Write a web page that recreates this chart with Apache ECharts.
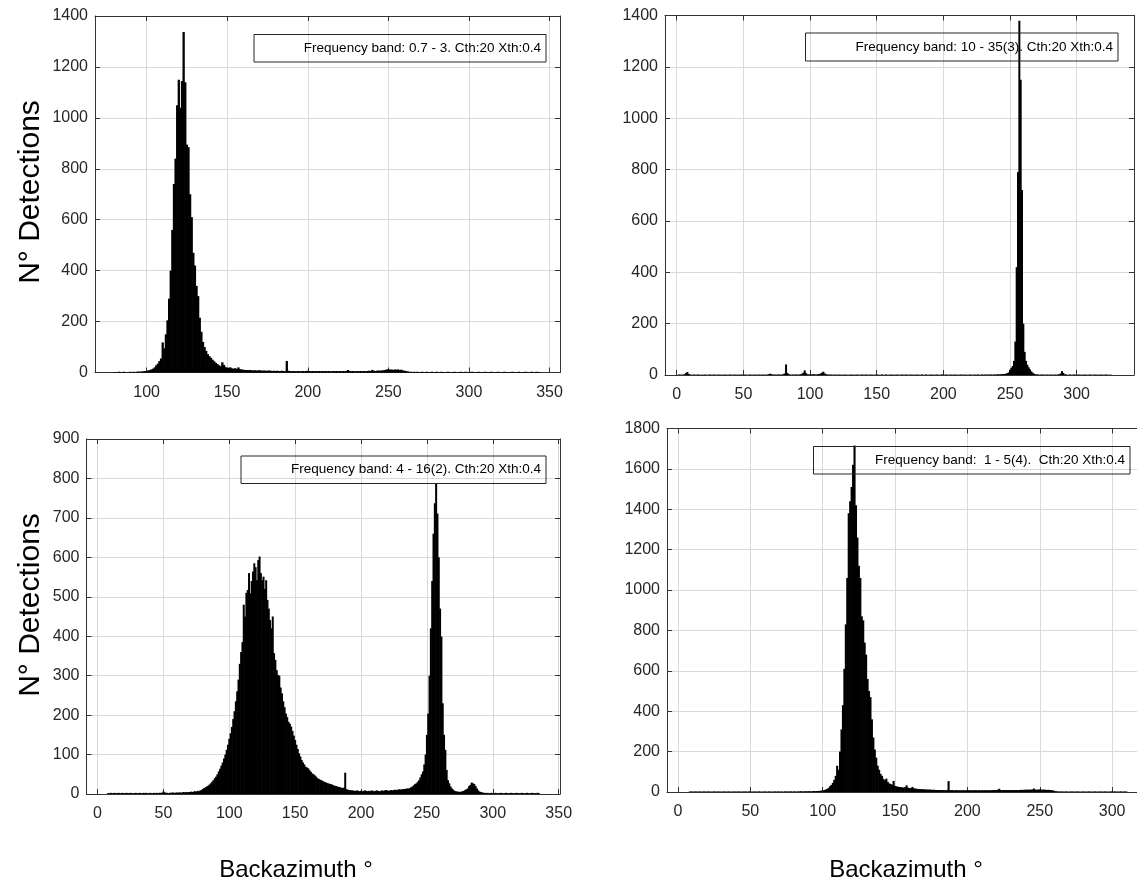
<!DOCTYPE html>
<html>
<head>
<meta charset="utf-8">
<title>Backazimuth histograms</title>
<script src="https://cdn.jsdelivr.net/npm/echarts@6.0.0/dist/echarts.min.js"></script>
<style>
  html, body { margin: 0; padding: 0; background: #fff; }
  #chart { width: 1137px; height: 885px; }
</style>
</head>
<body>
<div id="chart"></div>
<script>
// legend labels (one per panel)
const band1 = 'Frequency band: 0.7 - 3. Cth:20 Xth:0.4'
const band2 = 'Frequency band: 10 - 35(3). Cth:20 Xth:0.4'
const band3 = 'Frequency band: 4 - 16(2). Cth:20 Xth:0.4'
const band4 = 'Frequency band:  1 - 5(4).  Cth:20 Xth:0.4'

// x tick labels
const xTicks1 = [100, 150, 200, 250, 300, 350]
const xTicks2 = [0, 50, 100, 150, 200, 250, 300]
const xTicks3 = [0, 50, 100, 150, 200, 250, 300, 350]
const xTicks4 = [0, 50, 100, 150, 200, 250, 300]

// histogram counts, 1-degree bins, first bin at the start value
const start1 = 80
const counts1 = [
  2, 1, 2, 3, 2, 2, 3, 2, 1, 2,
  3, 2, 3, 2, 3, 4, 3, 4, 5, 6,
  6, 8, 10, 12, 15, 20, 28, 35, 45, 55,
  118, 95, 150, 205, 290, 400, 560, 740, 840, 1050,
  1150, 1040, 1145, 1337, 1140, 895, 885, 700, 610, 470,
  420, 340, 300, 215, 160, 120, 100, 85, 72, 64,
  58, 50, 44, 38, 33, 28, 25, 40, 30, 22,
  18, 19, 20, 16, 15, 17, 14, 20, 13, 12,
  11, 10, 10, 9, 10, 9, 8, 9, 8, 8,
  9, 8, 7, 8, 7, 7, 8, 7, 6, 7,
  6, 7, 6, 6, 7, 6, 5, 45, 7, 6,
  5, 6, 5, 5, 6, 5, 5, 6, 5, 6,
  7, 6, 5, 6, 5, 6, 5, 6, 5, 6,
  5, 6, 5, 6, 5, 5, 6, 5, 6, 5,
  6, 5, 6, 5, 6, 10, 6, 5, 6, 5,
  5, 6, 5, 6, 5, 6, 5, 6, 7, 6,
  10, 7, 6, 7, 8, 7, 8, 9, 10, 12,
  13, 11, 12, 10, 12, 11, 12, 10, 11, 8,
  7, 6, 4, 3, 3, 2, 3, 2, 3, 2,
  2, 3, 2, 2, 3, 2, 2, 3, 2, 2,
  3, 2, 2, 3, 2, 2, 2, 3, 2, 2,
  2, 3, 2, 2, 2, 3, 2, 2, 3, 2,
  2, 2, 3, 2, 2, 2, 3, 2, 2, 2,
  3, 2, 2, 2, 3, 2, 2, 2, 3, 2,
  2, 2, 3, 2, 2, 2, 2, 3, 2, 2,
  2, 3, 2, 2, 2, 3, 2, 2, 2, 3,
  2, 2, 3, 2, 2
]

const start2 = 0
const counts2 = [
  0, 1, 2, 1, 1, 2, 3, 8, 12, 4,
  2, 1, 1, 2, 1, 1, 2, 1, 1, 1,
  1, 2, 1, 1, 1, 2, 1, 1, 2, 1,
  1, 1, 2, 1, 1, 1, 2, 1, 1, 1,
  2, 1, 1, 1, 2, 1, 1, 1, 2, 1,
  1, 2, 1, 1, 1, 2, 1, 1, 1, 2,
  1, 1, 2, 1, 1, 2, 1, 1, 2, 3,
  5, 3, 2, 1, 2, 1, 2, 2, 1, 2,
  3, 6, 41, 8, 3, 2, 1, 2, 1, 2,
  2, 1, 2, 3, 5, 9, 18, 7, 3, 2,
  2, 3, 2, 3, 2, 2, 3, 4, 6, 9,
  13, 6, 3, 2, 2, 1, 2, 1, 1, 2,
  1, 1, 2, 1, 1, 1, 2, 1, 1, 1,
  1, 2, 1, 1, 1, 2, 1, 1, 1, 2,
  1, 1, 2, 1, 1, 1, 2, 1, 1, 1,
  2, 1, 1, 1, 2, 1, 1, 2, 1, 1,
  1, 2, 1, 1, 1, 2, 1, 1, 1, 2,
  1, 1, 2, 1, 1, 1, 2, 1, 1, 1,
  2, 1, 1, 1, 2, 1, 1, 2, 1, 1,
  1, 2, 1, 1, 1, 2, 1, 1, 1, 2,
  1, 1, 2, 1, 1, 1, 2, 1, 1, 2,
  1, 1, 1, 2, 1, 1, 2, 1, 1, 1,
  2, 1, 1, 1, 2, 1, 2, 1, 1, 2,
  1, 2, 1, 2, 1, 2, 2, 1, 2, 2,
  2, 3, 2, 3, 3, 4, 4, 5, 7, 10,
  20, 28, 35, 55, 130, 420, 790, 1380, 1150, 720,
  200, 90, 55, 40, 30, 22, 14, 9, 5, 3,
  2, 2, 1, 2, 1, 2, 1, 1, 2, 1,
  1, 2, 1, 1, 2, 1, 2, 3, 6, 15,
  8, 3, 2, 1, 1, 2, 1, 1, 2, 1,
  1, 1, 2, 1, 1, 1, 2, 1, 1, 1,
  2, 1, 1, 1, 2, 1, 1, 1, 2, 1,
  1, 1, 2, 1, 1, 1, 1
]

const start3 = 8
const counts3 = [
  2, 2, 3, 2, 2, 3, 2, 2, 3, 2, 2, 3,
  2, 2, 3, 2, 2, 3, 2, 2, 2, 3,
  2, 2, 3, 2, 2, 3, 2, 3, 2, 2,
  3, 2, 2, 3, 2, 3, 2, 3, 3, 3,
  6, 4, 3, 3, 2, 3, 3, 4, 3, 3,
  4, 3, 4, 4, 3, 5, 4, 5, 4, 5,
  5, 6, 5, 6, 7, 6, 8, 7, 9, 10,
  13, 15, 17, 19, 21, 24, 27, 31, 35, 40,
  44, 50, 57, 64, 72, 80, 90, 100, 112, 125,
  140, 154, 170, 190, 210, 235, 260, 290, 330, 360,
  385, 480, 450, 510, 517, 560, 509, 540, 564, 585,
  575, 542, 593, 602, 560, 542, 551, 520, 542, 492,
  470, 441, 420, 450, 357, 340, 314, 302, 300, 270,
  255, 235, 220, 204, 195, 183, 178, 171, 160, 148,
  137, 125, 114, 103, 95, 86, 80, 75, 69, 67,
  65, 60, 56, 52, 50, 47, 44, 40, 38, 36,
  35, 33, 31, 30, 28, 27, 26, 25, 24, 22,
  21, 20, 19, 18, 17, 16, 15, 16, 54, 12,
  11, 10, 10, 9, 9, 8, 8, 9, 8, 7,
  8, 7, 8, 9, 8, 7, 8, 7, 9, 8,
  7, 8, 9, 8, 7, 8, 9, 8, 9, 10,
  9, 8, 9, 10, 9, 10, 11, 10, 11, 12,
  11, 12, 12, 13, 13, 14, 14, 15, 17, 19,
  22, 25, 27, 31, 35, 42, 50, 57, 75, 100,
  150, 204, 300, 420, 540, 660, 737, 788, 711, 600,
  470, 399, 230, 150, 112, 61, 35, 27, 19, 14,
  11, 8, 7, 6, 6, 5, 6, 7, 8, 10,
  12, 14, 20, 23, 29, 27, 25, 20, 14, 9,
  6, 5, 4, 3, 3, 2, 3, 2, 2, 3,
  2, 2, 3, 2, 2, 2, 3, 2, 2, 2,
  3, 2, 2, 2, 3, 2, 2, 2, 3, 2,
  2, 2, 3, 2, 2, 2, 3, 2, 2, 2,
  3, 2, 2, 2, 3, 2
]

const start4 = 8
const counts4 = [
  2, 3, 2, 2, 3, 2, 2, 3, 2, 2, 3, 2,
  2, 3, 2, 2, 2, 3, 2, 2, 3, 2,
  2, 2, 3, 2, 2, 3, 2, 2, 2, 3,
  2, 2, 3, 2, 2, 2, 3, 2, 2, 3,
  2, 2, 2, 3, 2, 2, 3, 2, 2, 2,
  3, 2, 2, 3, 2, 2, 2, 3, 2, 3,
  2, 3, 2, 2, 3, 3, 2, 3, 3, 2,
  3, 3, 2, 3, 3, 4, 3, 3, 4, 3,
  4, 4, 3, 4, 5, 4, 5, 5, 6, 6,
  8, 9, 12, 15, 20, 28, 35, 45, 60, 80,
  130, 110, 200, 310, 430, 610, 830, 1060, 1380, 1440,
  1510, 1620, 1716, 1420, 1260, 1120, 1060, 870, 850, 740,
  680, 560, 500, 470, 360, 270, 210, 170, 130, 110,
  90, 80, 65, 58, 66, 50, 42, 40, 36, 55,
  30, 28, 26, 25, 24, 23, 22, 24, 33, 21,
  20, 19, 25, 18, 17, 16, 15, 15, 14, 14,
  13, 13, 12, 12, 12, 11, 11, 11, 10, 10,
  10, 10, 9, 10, 9, 9, 10, 54, 9, 9,
  9, 8, 9, 9, 8, 9, 8, 9, 8, 9,
  8, 9, 8, 9, 8, 9, 9, 8, 9, 8,
  9, 8, 9, 9, 8, 9, 8, 9, 10, 9,
  10, 11, 16, 10, 9, 10, 9, 10, 9, 10,
  9, 10, 9, 10, 10, 9, 10, 11, 10, 11,
  11, 12, 11, 12, 11, 13, 17, 12, 11, 12,
  13, 12, 11, 12, 11, 10, 11, 10, 9, 8,
  6, 4, 3, 3, 2, 3, 2, 2, 3, 2,
  2, 2, 3, 2, 2, 2, 3, 2, 2, 2,
  3, 2, 2, 2, 3, 2, 2, 2, 3, 2,
  2, 2, 3, 2, 2, 3, 2, 2, 2, 3,
  2, 2, 3, 2, 2, 2, 3, 2, 2, 3, 2
]

const sans = "'Liberation Sans', Arial, sans-serif"
const lineColor = '#333333'
const gridColor = '#d9d9d9'

const toBins = (start, counts) => counts.map((c, i) => [start + i, c])

// barPx: pixel width of one 1-degree bin, slightly widened so bars merge into a solid fill
const panels = [
  { name: band1, bins: toBins(start1, counts1), xTicks: xTicks1, xMin: 68, xMax: 356.5, yMax: 1400, yStep: 200, barPx: 2.3,
    grid: { left: 95, top: 16, width: 465, height: 356.5 }, box: { x: 254, y: 34.5, w: 292, h: 27.5 } },
  { name: band2, bins: toBins(start2, counts2), xTicks: xTicks2, xMin: -8.8, xMax: 343, yMax: 1400, yStep: 200, barPx: 2,
    grid: { left: 665, top: 15.5, width: 469, height: 359.5 }, box: { x: 805.5, y: 33, w: 312.5, h: 28 } },
  { name: band3, bins: toBins(start3, counts3), xTicks: xTicks3, xMin: -8.35, xMax: 351, yMax: 900, yStep: 100, barPx: 2,
    grid: { left: 86.5, top: 439, width: 473.5, height: 355 }, box: { x: 241, y: 456, w: 305, h: 27.5 } },
  { name: band4, bins: toBins(start4, counts4), xTicks: xTicks4, xMin: -7.6, xMax: 333.1, yMax: 1800, yStep: 200, barPx: 2.1,
    grid: { left: 667, top: 428.5, width: 493, height: 363.5 }, box: { x: 813.5, y: 446.5, w: 316.5, h: 27.5 } },
]

const grids = []
const xAxes = []
const yAxes = []
const series = []
const graphics = []

panels.forEach((p, i) => {
  grids.push({ ...p.grid, containLabel: false, outerBoundsMode: 'none' })

  const xCommon = {
    type: 'value', gridIndex: i, min: p.xMin, max: p.xMax,
    axisLine: { show: true, onZero: false, lineStyle: { color: lineColor, width: 1 } },
    axisTick: { show: true, inside: true, length: 5, customValues: p.xTicks, lineStyle: { color: lineColor } },
  }
  xAxes.push({
    ...xCommon, position: 'bottom',
    axisLabel: { customValues: p.xTicks, margin: 12, fontSize: 16, color: '#262626', fontFamily: sans },
    splitLine: { show: true, lineStyle: { color: gridColor, width: 1 } },
  })
  xAxes.push({ ...xCommon, position: 'top', axisLabel: { show: false }, splitLine: { show: false } })

  const yCommon = {
    type: 'value', gridIndex: i, min: 0, max: p.yMax, interval: p.yStep,
    axisLine: { show: true, onZero: false, lineStyle: { color: lineColor, width: 1 } },
    axisTick: { show: true, inside: true, length: 5, lineStyle: { color: lineColor } },
  }
  yAxes.push({
    ...yCommon, position: 'left',
    axisLabel: { margin: 7, fontSize: 16, color: '#262626', fontFamily: sans, formatter: (v) => String(v) },
    splitLine: { show: true, lineStyle: { color: gridColor, width: 1 } },
  })
  yAxes.push({ ...yCommon, position: 'right', axisLabel: { show: false }, splitLine: { show: false } })

  series.push({
    name: p.name,
    type: 'bar',
    xAxisIndex: 2 * i,
    yAxisIndex: 2 * i,
    barWidth: p.barPx,
    itemStyle: { color: '#000' },
    emphasis: { disabled: true },
    data: p.bins,
  })

  // MATLAB-style legend box (no sample icon)
  graphics.push({
    type: 'rect', z: 100,
    shape: { x: p.box.x, y: p.box.y, width: p.box.w, height: p.box.h },
    style: { fill: 'transparent', stroke: '#262626', lineWidth: 1 },
  })
  graphics.push({
    type: 'text', z: 101, x: p.box.x + p.box.w - 5, y: p.box.y + p.box.h / 2,
    style: { text: p.name, align: 'right', verticalAlign: 'middle', fontSize: 13.5, fontFamily: sans, fill: '#000' },
  })
})

// axis titles
const yTitle = 'N° Detections'
const xTitle = 'Backazimuth °'
graphics.push(
  { type: 'text', x: 31, y: 192, rotation: Math.PI / 2,
    style: { text: yTitle, align: 'center', verticalAlign: 'middle', fontSize: 30, fontFamily: sans, fill: '#000' } },
  { type: 'text', x: 31, y: 605, rotation: Math.PI / 2,
    style: { text: yTitle, align: 'center', verticalAlign: 'middle', fontSize: 30, fontFamily: sans, fill: '#000' } },
  { type: 'text', x: 296, y: 870,
    style: { text: xTitle, align: 'center', verticalAlign: 'middle', fontSize: 24, fontFamily: sans, fill: '#000' } },
  { type: 'text', x: 906, y: 870,
    style: { text: xTitle, align: 'center', verticalAlign: 'middle', fontSize: 24, fontFamily: sans, fill: '#000' } }
)

const chart = echarts.init(document.getElementById('chart'))
chart.setOption({
  animation: false,
  backgroundColor: '#fff',
  grid: grids,
  xAxis: xAxes,
  yAxis: yAxes,
  series,
  graphic: graphics,
})
</script>
</body>
</html>
